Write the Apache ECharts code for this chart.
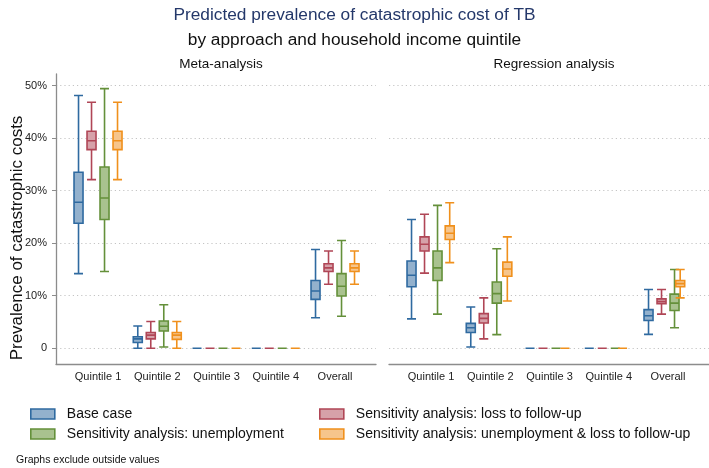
<!DOCTYPE html>
<html>
<head>
<meta charset="utf-8">
<script src="https://cdn.jsdelivr.net/npm/echarts@6/dist/echarts.min.js"></script>
<style>
html,body{margin:0;padding:0;background:#fff;}
#chart{width:709px;height:468px;}
</style>
</head>
<body>
<div id="chart"></div>
<script>
// ---------- data ----------
const categories = ['Quintile 1', 'Quintile 2', 'Quintile 3', 'Quintile 4', 'Overall'];
const seriesNames = [
  'Base case',
  'Sensitivity analysis: loss to follow-up',
  'Sensitivity analysis: unemployment',
  'Sensitivity analysis: unemployment & loss to follow-up'
];
const yTicks = [0, 10, 20, 30, 40, 50];
// each item: [lower whisker, Q1, median, Q3, upper whisker] (%)
const metaBase  = [[14.2, 23.8, 27.8, 33.5, 48.1], [0, 1.1, 1.8, 2.2, 4.25], [0, 0, 0, 0, 0], [0, 0, 0, 0, 0], [5.8, 9.3, 10.9, 12.9, 18.8]];
const metaLoss  = [[32.1, 37.8, 39.5, 41.3, 46.8], [0, 1.8, 2.5, 3.0, 5.1], [0, 0, 0, 0, 0], [0, 0, 0, 0, 0], [12.2, 14.6, 15.3, 16.1, 18.5]];
const metaUnemp = [[14.6, 24.5, 28.6, 34.5, 49.4], [0.25, 3.3, 4.2, 5.2, 8.3], [0, 0, 0, 0, 0], [0, 0, 0, 0, 0], [6.1, 9.95, 11.8, 14.2, 20.5]];
const metaBoth  = [[32.1, 37.8, 39.5, 41.3, 46.8], [0, 1.7, 2.5, 3.0, 5.1], [0, 0, 0, 0, 0], [0, 0, 0, 0, 0], [12.2, 14.6, 15.3, 16.1, 18.5]];
const regBase   = [[5.6, 11.7, 13.9, 16.6, 24.5], [0.25, 3.0, 3.9, 4.75, 7.85], [0, 0, 0, 0, 0], [0, 0, 0, 0, 0], [2.65, 5.3, 6.2, 7.35, 11.2]];
const regLoss   = [[14.3, 18.5, 19.8, 21.2, 25.5], [1.8, 4.8, 5.7, 6.6, 9.6], [0, 0, 0, 0, 0], [0, 0, 0, 0, 0], [6.5, 8.5, 8.9, 9.4, 11.2]];
const regUnemp  = [[6.5, 12.9, 15.3, 18.5, 27.2], [2.6, 8.6, 10.4, 12.6, 18.95], [0, 0, 0, 0, 0], [0, 0, 0, 0, 0], [3.9, 7.2, 8.6, 10.3, 15.0]];
const regBoth   = [[16.3, 20.7, 21.9, 23.3, 27.7], [9.0, 13.7, 15.1, 16.4, 21.2], [0, 0, 0, 0, 0], [0, 0, 0, 0, 0], [9.6, 11.7, 12.3, 12.9, 15.0]];

// ---------- style ----------
const FONT = '"Liberation Sans", Arial, Helvetica, sans-serif';
const strokes = ['#2f6aa0', '#b04656', '#64903a', '#f0901c'];
const fills   = ['#93b1cd', '#d6a1a9', '#a9c28f', '#f6c58c'];
const AXIS_COLOR = '#8c8c8c';

const PANEL_W = 320, MARGIN = 12.4, BAND_W = 296.25, SLOT = 13;
const DATA_TOP = 85.5, DATA_H = 262.8, FRAME_TOP = 74, FRAME_H = 290;

const panels = [
  { title: 'Meta-analysis', left: 56, data: [metaBase, metaLoss, metaUnemp, metaBoth], yAxisShown: true },
  { title: 'Regression analysis', left: 389, data: [regBase, regLoss, regUnemp, regBoth], yAxisShown: false }
];

const grid = [], xAxis = [], yAxis = [], series = [], title = [];

title.push({
  text: 'Predicted prevalence of catastrophic cost of TB',
  left: 'center', top: 2,
  textStyle: { fontFamily: FONT, fontSize: 17.3, fontWeight: 'normal', color: '#24386a' }
});
title.push({
  text: 'by approach and household income quintile',
  left: 'center', top: 27,
  textStyle: { fontFamily: FONT, fontSize: 17.3, fontWeight: 'normal', color: '#111' }
});
title.push({
  text: 'Graphs exclude outside values',
  left: 11, top: 450,
  textStyle: { fontFamily: FONT, fontSize: 10.5, fontWeight: 'normal', color: '#111' }
});

panels.forEach(function (p) {
  title.push({
    text: p.title,
    left: p.left + PANEL_W / 2, top: 52, textAlign: 'center',
    textStyle: { fontFamily: FONT, fontSize: 13.5, fontWeight: 'normal', color: '#111' }
  });

  // frame grid (axis lines)
  let gi = grid.length;
  grid.push({ left: p.left, top: FRAME_TOP, width: PANEL_W, height: FRAME_H });
  xAxis.push({ type: 'value', gridIndex: gi, min: 0, max: 1,
    axisLine: { show: true, onZero: false, lineStyle: { color: AXIS_COLOR, width: 1.3 } },
    axisTick: { show: false }, axisLabel: { show: false }, splitLine: { show: false } });
  yAxis.push({ type: 'value', gridIndex: gi, min: 0, max: 1,
    axisLine: { show: p.yAxisShown, onZero: false, lineStyle: { color: AXIS_COLOR, width: 1.3 } },
    axisTick: { show: false }, axisLabel: { show: false }, splitLine: { show: false } });

  // scale grid (y ticks, labels, grid lines)
  gi = grid.length;
  grid.push({ left: p.left, top: DATA_TOP, width: PANEL_W, height: DATA_H });
  xAxis.push({ type: 'value', gridIndex: gi, show: false, min: 0, max: 1 });
  yAxis.push({ type: 'value', gridIndex: gi, min: yTicks[0], max: yTicks[yTicks.length - 1], interval: 10,
    axisLine: { show: false },
    axisTick: { show: p.yAxisShown, length: 4, lineStyle: { color: AXIS_COLOR } },
    axisLabel: { show: p.yAxisShown, margin: 9, fontFamily: FONT, fontSize: 11, color: '#222',
      formatter: function (v) { return v === 0 ? '0' : v + '%'; } },
    splitLine: { show: true, lineStyle: { color: '#c4c4c4', width: 1, type: [1.2, 3] } } });

  // label grid (category labels)
  gi = grid.length;
  grid.push({ left: p.left + MARGIN, top: DATA_TOP, width: BAND_W, height: FRAME_TOP + FRAME_H - DATA_TOP });
  xAxis.push({ type: 'category', gridIndex: gi, data: categories,
    axisLine: { show: false }, axisTick: { show: false },
    axisLabel: { margin: 7, fontFamily: FONT, fontSize: 11, color: '#222', interval: 0 } });
  yAxis.push({ type: 'value', gridIndex: gi, show: false, min: 0, max: 1 });

  // data grids, one per series, shifted within each category band
  p.data.forEach(function (vals, k) {
    const g = grid.length;
    grid.push({ left: p.left + MARGIN + (k - 1.5) * SLOT, top: DATA_TOP, width: BAND_W, height: DATA_H });
    xAxis.push({ type: 'category', gridIndex: g, data: categories, show: false });
    yAxis.push({ type: 'value', gridIndex: g, show: false, min: yTicks[0], max: yTicks[yTicks.length - 1] });
    series.push({
      type: 'boxplot',
      name: seriesNames[k],
      xAxisIndex: g, yAxisIndex: g,
      boxWidth: [9, 9],
      data: vals,
      itemStyle: { color: fills[k], borderColor: strokes[k], borderWidth: 1.6 },
      emphasis: { disabled: true },
      silent: true
    });
  });
});

function legendItem(i) {
  return { name: seriesNames[i], itemStyle: { color: fills[i], borderColor: strokes[i], borderWidth: 1.6 } };
}
const legendText = { fontFamily: FONT, fontSize: 14, color: '#111', padding: [0, 0, 0, 7] };

const option = {
  animation: false,
  backgroundColor: '#ffffff',
  title: title,
  legend: [
    { orient: 'vertical', left: 25, top: 402, itemWidth: 24, itemHeight: 10, itemGap: 6, icon: 'rect',
      selectedMode: false, data: [legendItem(0), legendItem(2)], textStyle: legendText },
    { orient: 'vertical', left: 314, top: 402, itemWidth: 24, itemHeight: 10, itemGap: 6, icon: 'rect',
      selectedMode: false, data: [legendItem(1), legendItem(3)], textStyle: legendText }
  ],
  grid: grid,
  xAxis: xAxis,
  yAxis: yAxis,
  series: series,
  graphic: [{
    type: 'text',
    x: 17, y: 238,
    rotation: Math.PI / 2,
    style: {
      text: 'Prevalence of catastrophic costs',
      font: '17px ' + FONT,
      fill: '#111',
      textAlign: 'center',
      textVerticalAlign: 'middle'
    }
  }]
};

const chart = echarts.init(document.getElementById('chart'), null, { renderer: 'canvas' });
chart.setOption(option);
</script>
</body>
</html>
